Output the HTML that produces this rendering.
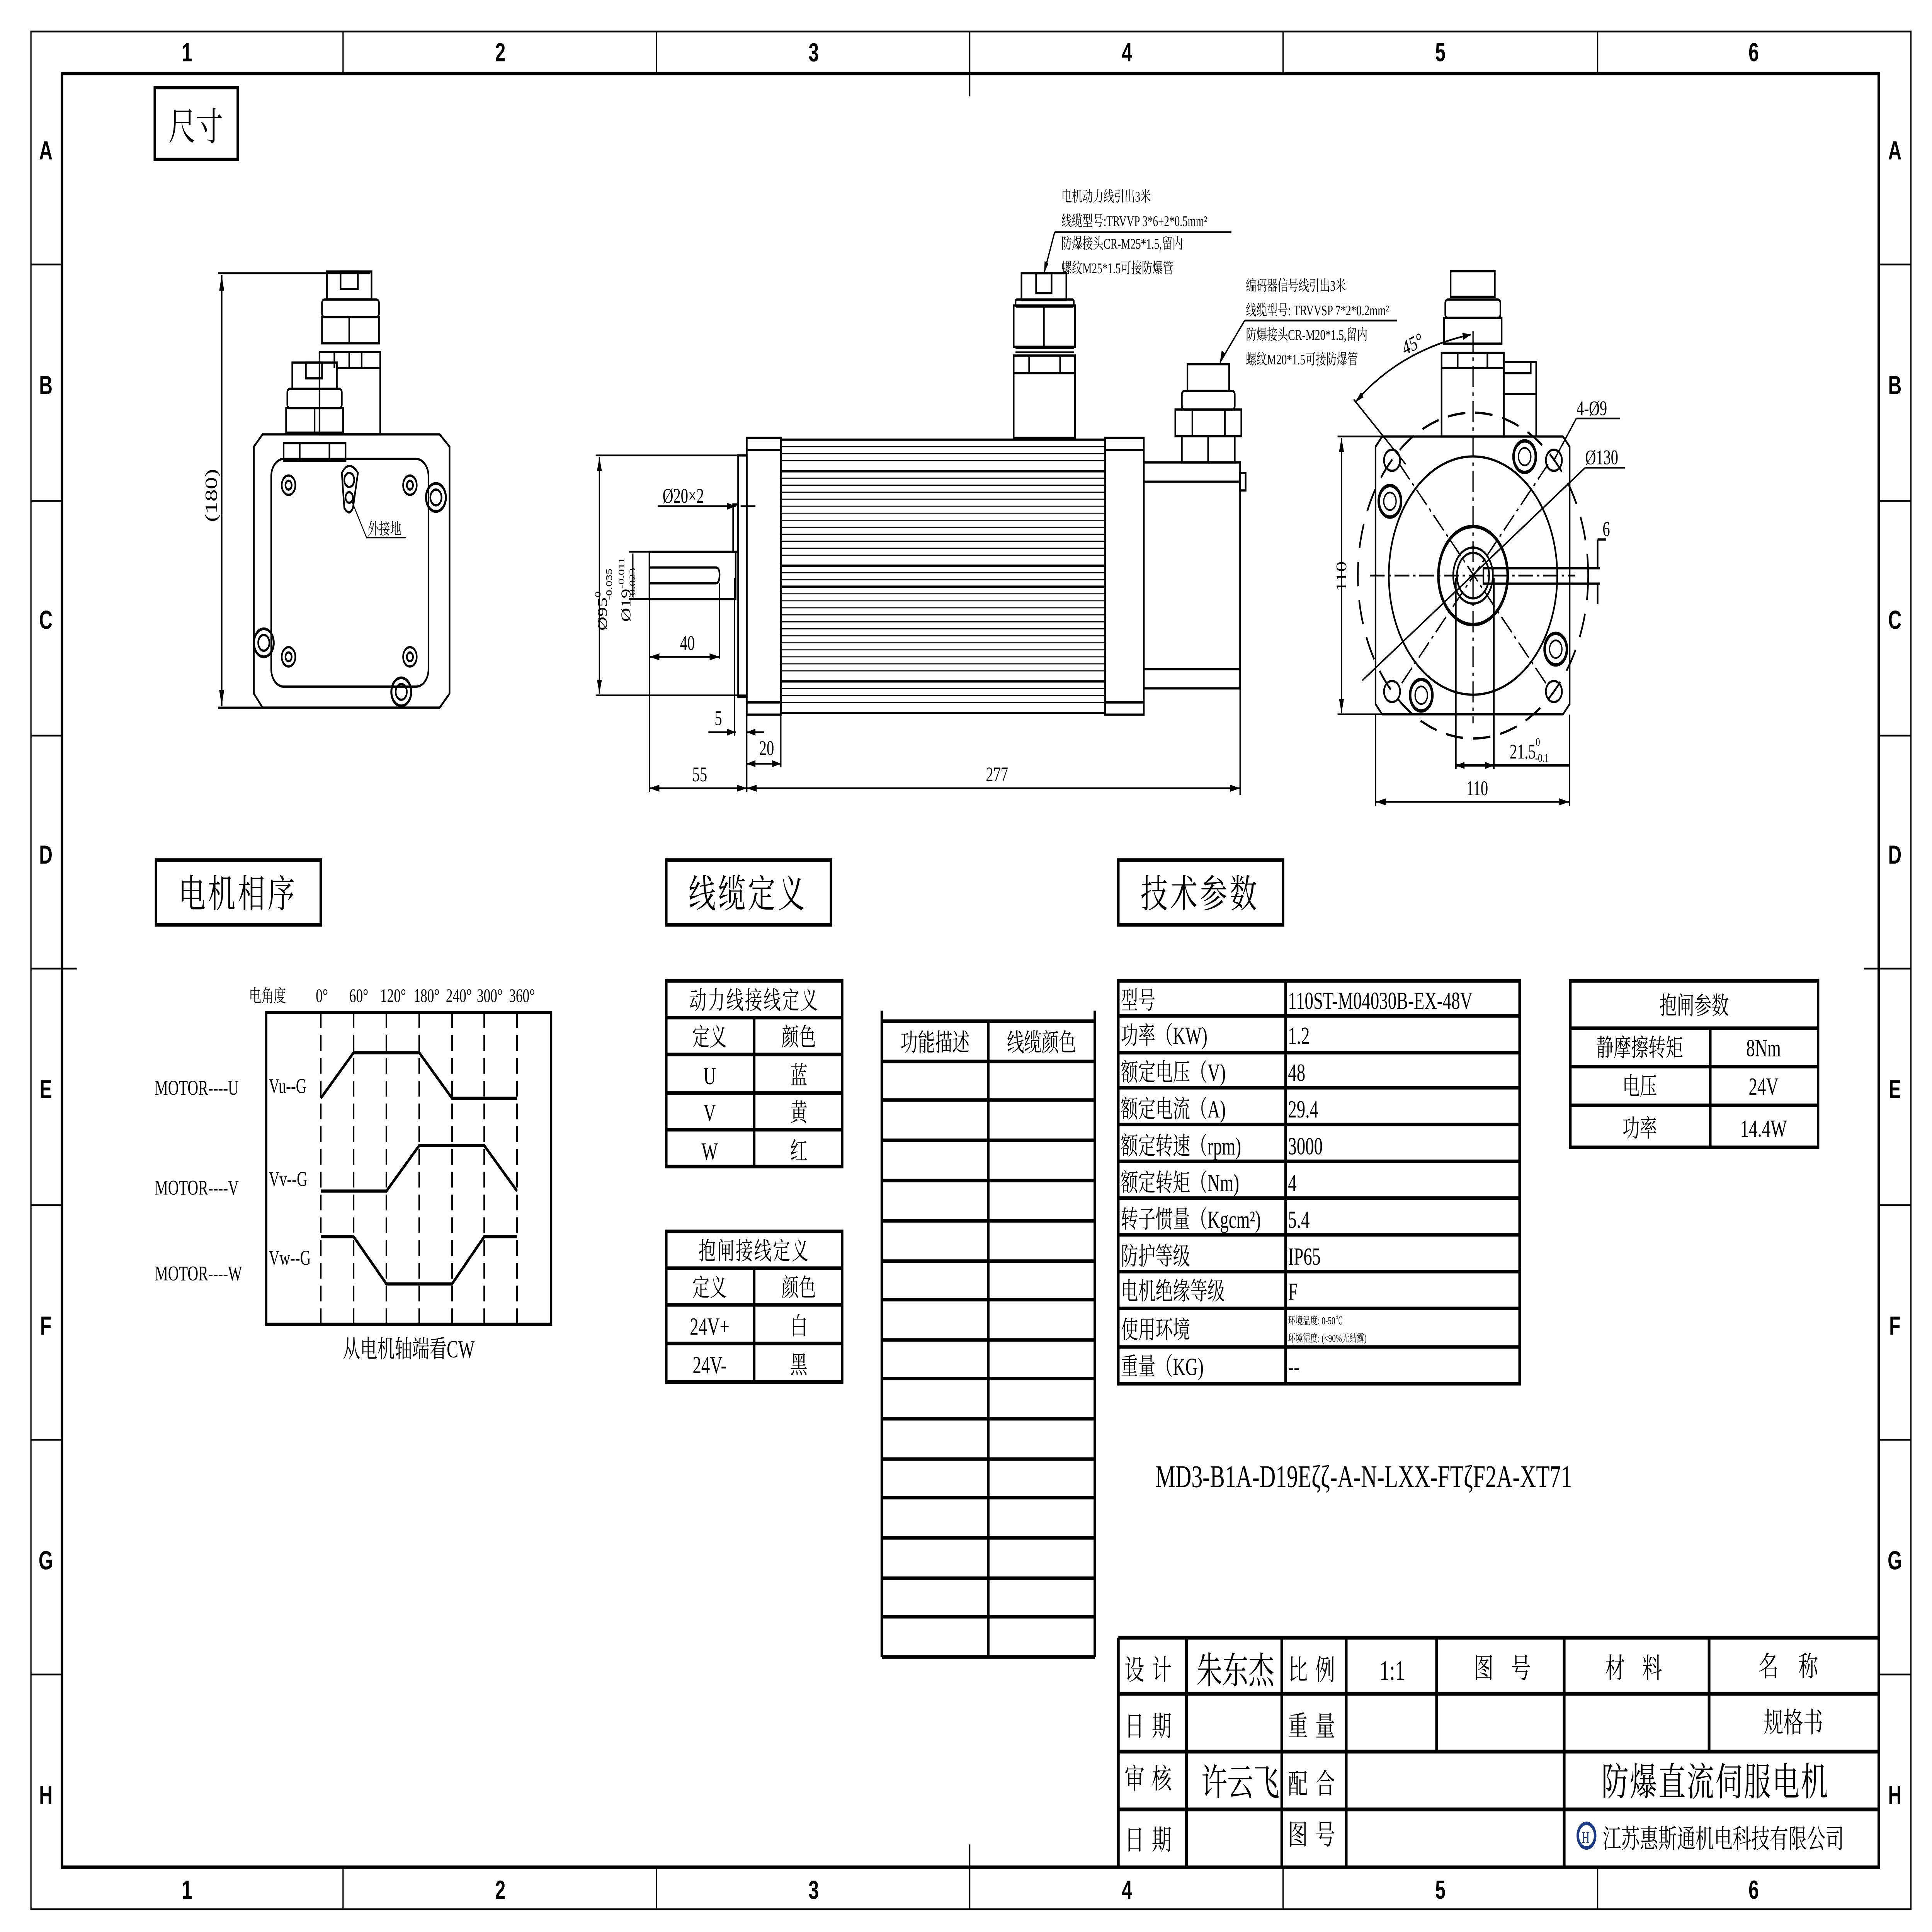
<!DOCTYPE html>
<html><head><meta charset="utf-8"><style>
html,body{margin:0;padding:0;background:#fff;width:100vw;height:100vh;overflow:hidden;}
svg{display:block;width:100vw;height:100vh;}
text{font-family:"Liberation Serif","Noto Serif CJK SC",serif;fill:#000;}
text.s{font-family:"Liberation Sans",sans-serif;font-weight:bold;}
</style></head><body>
<svg xmlns="http://www.w3.org/2000/svg" viewBox="0 0 1560 1103" preserveAspectRatio="none">
<rect width="1560" height="1103" fill="#fff"/>
<g fill="none" stroke="#000">
<rect x="25" y="18" width="1518" height="1072" stroke-width="1"/>
<rect x="50" y="42" width="1467" height="1024" stroke-width="2"/>
<path stroke-width="1" d="M277 18V42M530 18V42M783 18V55M1036 18V42M1290 18V42M277 1066V1090M530 1066V1090M783 1053V1090M1036 1066V1090M1290 1066V1090
M25 151H50M25 286H50M25 420H50M25 553H62M25 688H50M25 822H50M25 956H50
M1517 151H1543M1517 286H1543M1517 420H1543M1505 553H1543M1517 688H1543M1517 822H1543M1517 956H1543"/>
</g>
<g font-size="15" text-anchor="middle">
<text class="s" x="151" y="35">1</text><text class="s" x="404" y="35">2</text><text class="s" x="657" y="35">3</text><text class="s" x="910" y="35">4</text><text class="s" x="1163" y="35">5</text><text class="s" x="1416" y="35">6</text>
<text class="s" x="151" y="1084">1</text><text class="s" x="404" y="1084">2</text><text class="s" x="657" y="1084">3</text><text class="s" x="910" y="1084">4</text><text class="s" x="1163" y="1084">5</text><text class="s" x="1416" y="1084">6</text>
<text class="s" x="37" y="91">A</text><text class="s" x="37" y="225">B</text><text class="s" x="37" y="359">C</text><text class="s" x="37" y="493">D</text><text class="s" x="37" y="627">E</text><text class="s" x="37" y="762">F</text><text class="s" x="37" y="896">G</text><text class="s" x="37" y="1030">H</text>
<text class="s" x="1530" y="91">A</text><text class="s" x="1530" y="225">B</text><text class="s" x="1530" y="359">C</text><text class="s" x="1530" y="493">D</text><text class="s" x="1530" y="627">E</text><text class="s" x="1530" y="762">F</text><text class="s" x="1530" y="896">G</text><text class="s" x="1530" y="1030">H</text>
</g>

<g fill="none" stroke="#000" stroke-width="2">
<rect x="125" y="50" width="67" height="41"/>
<rect x="126" y="491" width="133" height="37"/>
<rect x="538" y="491" width="133" height="37"/>
<rect x="903" y="491" width="133" height="37"/>
</g>
<g font-size="22">
<text x="136" y="80">尺寸</text>
<text x="144" y="518" letter-spacing="2">电机相序</text>
<text x="556" y="518" letter-spacing="2">线缆定义</text>
<text x="921" y="518" letter-spacing="2">技术参数</text>
</g>

<!-- LEFT VIEW -->
<g fill="none" stroke="#000" stroke-width="1.3">
<path d="M212 248H355L363 255V396L355 404H212L205 396V255Z"/>
<rect x="219" y="262" width="127" height="130" rx="10"/>
<circle cx="233" cy="277" r="5.5"/><circle cx="233" cy="277" r="2.5"/>
<circle cx="331" cy="277" r="5.5"/><circle cx="331" cy="277" r="2.5"/>
<circle cx="233" cy="375" r="5.5"/><circle cx="233" cy="375" r="2.5"/>
<circle cx="331" cy="375" r="5.5"/><circle cx="331" cy="375" r="2.5"/>
<circle cx="352" cy="284" r="8" stroke-width="1.6"/><circle cx="352" cy="284" r="4.5"/>
<circle cx="213" cy="367" r="8" stroke-width="1.6"/><circle cx="213" cy="367" r="4.5"/>
<circle cx="324" cy="395" r="8" stroke-width="1.6"/><circle cx="324" cy="395" r="4.5"/>
<path d="M276 270Q282 262 289 270L285 290Q282 295 278 290Z"/>
<circle cx="282" cy="274" r="4"/><circle cx="282" cy="284" r="3"/>
<path stroke-width="0.7" d="M284 286L296 307H328"/>
<rect x="258" y="201" width="49" height="47"/>
<path d="M270 201V210M282 201V210M292 201V210M272 210H307"/>
<rect x="260" y="181" width="46" height="15"/><path d="M282 181V196"/>
<rect x="260" y="171" width="46" height="10" rx="2"/>
<rect x="264" y="155" width="36" height="16"/>
<rect x="275" y="155" width="14" height="10"/>
<rect x="229" y="253" width="50" height="10"/><path d="M242 253V263M266 253V263"/>
<rect x="231" y="233" width="46" height="14"/><path d="M254 233V247"/>
<rect x="232" y="222" width="44" height="11" rx="2"/>
<rect x="236" y="207" width="36" height="15"/>
<rect x="247" y="207" width="13" height="9"/>
<path stroke-width="1.2" d="M176 156H299M176 404H212M179 157V403"/>
</g>
<path d="M179 157L177 166H181Z M179 403L177 394H181Z" fill="#000"/>
<text x="0" y="0" font-size="14" transform="translate(175 298) rotate(-90)">(180)</text>
<text x="297" y="305" font-size="9">外接地</text>

<!-- SIDE VIEW -->
<g fill="none" stroke="#000" stroke-width="1.3">
<rect x="603" y="250" width="27.5" height="158"/>
<path d="M603 257H630.5M603 401H630.5"/>
<rect x="630.5" y="251" width="262" height="156"/>
<rect x="892.3" y="250" width="31.3" height="158"/>
<path d="M892.3 257H923.6M892.3 401H923.6"/>
<rect x="923.6" y="264" width="77.7" height="129"/>
<path d="M923.6 275H1001.3M923.6 382H1001.3"/>
<rect x="1001.3" y="270" width="4.5" height="10"/>
<rect x="596" y="260" width="7" height="138"/>
<rect x="592" y="288" width="4" height="27"/>
<rect x="524.4" y="315" width="69.6" height="27"/>
<path d="M524.4 324H578Q581 324 581 328Q581 333 578 333H524.4"/>
<rect x="818.5" y="203" width="49.5" height="47"/>
<path d="M818.5 213H868M831 203V213M856 203V213"/>
<rect x="818.5" y="174.4" width="49.5" height="23.6"/><path d="M842.9 174.4V198"/>
<rect x="820" y="171" width="47" height="4" rx="1"/>
<rect x="824.8" y="156" width="36.2" height="15.3"/>
<rect x="836.6" y="156" width="12.5" height="11.3"/>
<path stroke-width="0.8" d="M820 199H867M820 201H867"/>
<rect x="954.3" y="249" width="42.7" height="15"/><path d="M975.5 249V264"/>
<rect x="949" y="233.8" width="53.3" height="15.2"/><path d="M962.8 233.8V249M989 233.8V249"/>
<rect x="954.3" y="223.2" width="42.7" height="10.6" rx="2"/>
<rect x="958.8" y="207.9" width="33.7" height="15.3"/>
</g>
<g stroke="#000" stroke-width="0.6">
<path d="M630.5 255H892.3M630.5 259H892.3M630.5 263H892.3M630.5 273H892.3M630.5 277H892.3M630.5 281H892.3M630.5 285H892.3M630.5 289H892.3M630.5 293H892.3M630.5 297H892.3M630.5 301H892.3M630.5 305H892.3M630.5 309H892.3M630.5 313H892.3M630.5 317H892.3M630.5 327H892.3M630.5 331H892.3M630.5 339H892.3M630.5 343H892.3M630.5 347H892.3M630.5 351H892.3M630.5 355H892.3M630.5 359H892.3M630.5 363H892.3M630.5 367H892.3M630.5 371H892.3M630.5 375H892.3M630.5 379H892.3M630.5 383H892.3M630.5 393H892.3M630.5 397H892.3M630.5 401H892.3"/>
<path stroke-width="1.4" d="M630.5 269H892.3M630.5 323H892.3M630.5 335H892.3M630.5 389H892.3"/>
</g>
<g fill="none" stroke="#000" stroke-width="1">
<path d="M481 260H596M481 397H603M484 261V396M508 315H524M508 342H524M511 316V341"/>
<path d="M524.4 342V452M603 408V452M1001.3 393V454M630.5 408V438M581 333V376M593 330V420"/>
<path d="M524.4 450H603M603 450H1001.3M603 436H630.5M524.4 375H581M572 418H594M603 418H617"/>
<path d="M531 289H594M598 289H610"/>
<path d="M851.6 132.5H994.3M851.6 132.5L843 156"/>
<path d="M1005 183H1128M1005 183L985 207"/>
</g>
<g fill="#000">
<path d="M484 261l-2 8h4z M484 396l-2-8h4z M524.4 450l8-2v4z M603 450l-8-2v4z M603 450l8-2v4z M1001.3 450l-8-2v4z M603 436l7-2v4z M630.5 436l-7-2v4z M524.4 375l8-2v4z M581 375l-8-2v4z M594 418l-7-2v4z M603 418l7-2v4z M594 289l-7-2v4z M843 156l0.5-7 3 1.5z M985 207l1.5-7 3 2z"/>
</g>
<g font-size="12">
<text x="535" y="287">Ø20×2</text>
<text x="549" y="371">40</text>
<text x="577" y="414">5</text>
<text x="613" y="431">20</text>
<text x="559" y="446">55</text>
<text x="796" y="446">277</text>
<text transform="translate(490 360) rotate(-90)" font-size="11">Ø95<tspan font-size="7" dy="-5">0</tspan><tspan font-size="7" dx="-5" dy="9">-0.035</tspan></text>
<text transform="translate(509 355) rotate(-90)" font-size="11">Ø19<tspan font-size="7" dy="-5">-0.011</tspan><tspan font-size="7" dx="-24" dy="9">-0.023</tspan></text>
</g>
<g font-size="8.5">
<text x="857" y="115">电机动力线引出3米</text>
<text x="857" y="129">线缆型号:TRVVP 3*6+2*0.5mm²</text>
<text x="857" y="142">防爆接头CR-M25*1.5,留内</text>
<text x="857" y="156">螺纹M25*1.5可接防爆管</text>
<text x="1006" y="166">编码器信号线引出3米</text>
<text x="1006" y="180">线缆型号: TRVVSP 7*2*0.2mm²</text>
<text x="1006" y="194">防爆接头CR-M20*1.5,留内</text>
<text x="1006" y="208">螺纹M20*1.5可接防爆管</text>
</g>

<!-- FRONT VIEW -->
<g fill="none" stroke="#000" stroke-width="1.3">
<path d="M1116 249.2H1262L1267.4 255V402L1262 407.8H1116L1110.7 402V255Z"/>
<circle cx="1189.4" cy="328.6" r="93" stroke-dasharray="14 8"/>
<circle cx="1189.4" cy="328.6" r="68"/>
<circle cx="1189.4" cy="328.6" r="28" stroke-width="2"/>
<circle cx="1189.4" cy="328.6" r="16"/><circle cx="1189.4" cy="328.6" r="13"/>
<rect x="1197.8" y="324.4" width="7.6" height="8.8"/>
<path d="M1205.4 324.4H1292M1205.4 333.2H1292M1290 308V324M1290 333V345M1290 308H1297"/>
<path d="M1175.5 330V439M1206.2 330V439M1175.5 437H1206.2M1206.2 437H1267"/>
<ellipse cx="1124" cy="262.8" rx="6.5" ry="6"/><ellipse cx="1254.7" cy="262.8" rx="6.5" ry="6"/>
<ellipse cx="1124" cy="394.8" rx="6.5" ry="6"/><ellipse cx="1254.7" cy="394.8" rx="6.5" ry="6"/>
<g stroke-width="2"><circle cx="1231.1" cy="260.7" r="9"/><circle cx="1122.3" cy="286.2" r="9"/><circle cx="1256.2" cy="370.6" r="9"/><circle cx="1147.6" cy="396.9" r="9"/></g>
<g stroke-width="1"><circle cx="1231.1" cy="260.7" r="5"/><circle cx="1122.3" cy="286.2" r="5"/><circle cx="1256.2" cy="370.6" r="5"/><circle cx="1147.6" cy="396.9" r="5"/></g>
<rect x="1164" y="201.5" width="50.3" height="47.7"/>
<path d="M1164 210H1214.3M1177 201.5V210M1201 201.5V210"/>
<rect x="1166" y="181.5" width="46.5" height="14.7"/>
<rect x="1167" y="171" width="44.5" height="10.5" rx="2"/>
<rect x="1171.3" y="154.8" width="35.7" height="14.7"/>
<rect x="1214.3" y="206.7" width="26.1" height="42.5"/>
<path d="M1214.3 213H1236V206.7M1214.3 225H1240.4"/>
<path stroke-width="1" d="M1080 249.2H1116M1080 407.8H1116M1083.2 250V407M1110.7 408V460M1267.4 408V460M1111 457.8H1267"/>
<path stroke-width="1" d="M1094 229.8Q1130 200 1187.7 191"/>
<path stroke-width="1" d="M1093 228L1135 265M1272.8 238.9H1308M1272.8 238.9L1254.7 262.8M1280 267H1312M1280 267L1100 388.5"/>
</g>
<g stroke="#000" stroke-width="1" stroke-dasharray="12 3 2 3" fill="none">
<path d="M1106 328.6H1272M1189.4 189V413"/>
<path d="M1130 265L1250 392M1250 265L1130 392"/>
</g>
<g fill="#000">
<path d="M1083.2 250l-2 8h4z M1083.2 407l-2-8h4z M1111 457.8l8-2v4z M1267 457.8l-8-2v4z M1175.5 437l7-2v4z M1206.2 437l-7-2v4z M1187.7 191l-7-1 1 4z M1094 229.8l5-6 2 3z"/>
</g>
<g font-size="12">
<text transform="translate(1087 338) rotate(-90)">110</text>
<text x="1184" y="454">110</text>
<text x="1219" y="433">21.5<tspan font-size="7" dy="-7">0</tspan><tspan font-size="7" dx="-4" dy="9">-0.1</tspan></text>
<text x="1273" y="237">4-Ø9</text>
<text x="1280" y="265">Ø130</text>
<text x="1294" y="306">6</text>
<text transform="translate(1134 203) rotate(-20)">45°</text>
</g>

<!-- PHASE DIAGRAM -->
<g fill="none" stroke="#000">
<rect x="215" y="578" width="230" height="178" stroke-width="1.8"/>
<g stroke-width="1.3" stroke-dasharray="9 4">
<path d="M259 578V756M285.5 578V756M312 578V756M338.5 578V756M365 578V756M391 578V756M417.5 578V756"/>
</g>
<g stroke-width="1.8">
<path d="M259 627L285.5 601H338.5L365 627H417.5"/>
<path d="M259 680H312L338.5 654H391L417.5 680"/>
<path d="M259 706H285.5L312 733H365L391 706H417.5"/>
</g>
</g>
<g font-size="11">
<text x="201" y="572" font-size="10">电角度</text>
<text x="255" y="572">0°</text><text x="282" y="572">60°</text><text x="307" y="572">120°</text><text x="334" y="572">180°</text><text x="360" y="572">240°</text><text x="385" y="572">300°</text><text x="411" y="572">360°</text>
<text x="125" y="625" font-size="12">MOTOR----U</text>
<text x="125" y="682" font-size="12">MOTOR----V</text>
<text x="125" y="731" font-size="12">MOTOR----W</text>
<text x="217" y="624" font-size="12">Vu--G</text>
<text x="217" y="677" font-size="12">Vv--G</text>
<text x="217" y="722" font-size="12">Vw--G</text>
<text x="330" y="775" font-size="14" text-anchor="middle">从电机轴端看CW</text>
</g>

<!-- POWER TABLE -->
<g fill="none" stroke="#000" stroke-width="2">
<rect x="538" y="560" width="142" height="106"/>
<path d="M538 581H680M538 602H680M538 624H680M538 645H680M609 581V666"/>
<rect x="538" y="703" width="142" height="86"/>
<path d="M538 724H680M538 745H680M538 767H680M609 724V789"/>
</g>
<g font-size="14" text-anchor="middle">
<text x="609" y="576" letter-spacing="1">动力线接线定义</text>
<text x="573" y="597">定义</text><text x="645" y="597">颜色</text>
<text x="573" y="619">U</text><text x="645" y="619">蓝</text>
<text x="573" y="640">V</text><text x="645" y="640">黄</text>
<text x="573" y="662">W</text><text x="645" y="662">红</text>
<text x="609" y="719" letter-spacing="1">抱闸接线定义</text>
<text x="573" y="740">定义</text><text x="645" y="740">颜色</text>
<text x="573" y="762">24V+</text><text x="645" y="762">白</text>
<text x="573" y="784">24V-</text><text x="645" y="784">黑</text>
</g>

<!-- FUNCTION TABLE -->
<g fill="none" stroke="#000" stroke-width="2">
<path d="M712 577V946M884 577V946M798 583V946"/>
<path d="M712 583H884M712 606H884M712 628H884M712 651H884M712 674H884M712 697H884M712 720H884M712 742H884M712 765H884M712 787H884M712 810H884M712 833H884M712 855H884M712 878H884M712 901H884M712 923H884M712 946H884"/>
</g>
<g font-size="14" text-anchor="middle">
<text x="755" y="600">功能描述</text><text x="841" y="600">线缆颜色</text>
</g>

<!-- TECH TABLE -->
<g fill="none" stroke="#000" stroke-width="2">
<rect x="903" y="560" width="324" height="230"/>
<path d="M1038 560V790M903 580H1227M903 601H1227M903 621H1227M903 642H1227M903 663H1227M903 684H1227M903 705H1227M903 726H1227M903 747H1227M903 769H1227"/>
<rect x="1268" y="560" width="200" height="95"/>
<path d="M1268 587H1468M1268 609H1468M1268 631H1468M1381 587V655"/>
</g>
<g font-size="14">
<text x="905" y="576">型号</text><text x="1040" y="576">110ST-M04030B-EX-48V</text>
<text x="905" y="596">功率（KW)</text><text x="1040" y="596">1.2</text>
<text x="905" y="617">额定电压（V)</text><text x="1040" y="617">48</text>
<text x="905" y="638">额定电流（A)</text><text x="1040" y="638">29.4</text>
<text x="905" y="659">额定转速（rpm)</text><text x="1040" y="659">3000</text>
<text x="905" y="680">额定转矩（Nm)</text><text x="1040" y="680">4</text>
<text x="905" y="701">转子惯量（Kgcm²)</text><text x="1040" y="701">5.4</text>
<text x="905" y="722">防护等级</text><text x="1040" y="722">IP65</text>
<text x="905" y="742">电机绝缘等级</text><text x="1040" y="742">F</text>
<text x="905" y="764">使用环境</text>
<text x="1040" y="756" font-size="6">环境温度: 0-50℃</text>
<text x="1040" y="766" font-size="6">环境湿度: (&lt;90%无结露)</text>
<text x="905" y="785">重量（KG)</text><text x="1040" y="785">--</text>
</g>
<g font-size="14" text-anchor="middle">
<text x="1368" y="579">抱闸参数</text>
<text x="1324" y="603">静摩擦转矩</text><text x="1424" y="603">8Nm</text>
<text x="1324" y="625">电压</text><text x="1424" y="625">24V</text>
<text x="1324" y="649">功率</text><text x="1424" y="649">14.4W</text>
</g>
<text x="933" y="849" font-size="18">MD3-B1A-D19Eζζ-A-N-LXX-FTζF2A-XT71</text>

<!-- TITLE BLOCK -->
<g fill="none" stroke="#000" stroke-width="2.2">
<path d="M903 935H1517M903 967H1517M903 1000H1517M903 1033H1517M903 935V1066"/>
<path d="M958 935V1066M1035 935V1066M1087 935V1066M1160 935V1000M1263 935V1066M1380 935V1000"/>
</g>
<g font-size="16">
<text x="908" y="959" letter-spacing="6">设计</text>
<text x="966" y="961" font-size="21">朱东杰</text>
<text x="1040" y="959" letter-spacing="6">比例</text>
<text x="1114" y="959">1:1</text>
<text x="1190" y="958" letter-spacing="14">图号</text>
<text x="1296" y="958" letter-spacing="14">材料</text>
<text x="1420" y="957" letter-spacing="16">名称</text>
<text x="908" y="991" letter-spacing="6">日期</text>
<text x="1040" y="991" letter-spacing="6">重量</text>
<text x="1424" y="989">规格书</text>
<text x="908" y="1021" letter-spacing="6">审核</text>
<text x="970" y="1025" font-size="21">许云飞</text>
<text x="1040" y="1024" letter-spacing="6">配合</text>
<text x="1293" y="1025" font-size="22" letter-spacing="1">防爆直流伺服电机</text>
<text x="908" y="1056" letter-spacing="6">日期</text>
<text x="1040" y="1053" letter-spacing="6">图号</text>
<text x="1294" y="1055" font-size="15">江苏惠斯通机电科技有限公司</text>
</g>
<circle cx="1281" cy="1048" r="7" fill="none" stroke="#1a3a8a" stroke-width="2"/>
<text x="1277" y="1052" font-size="9" style="fill:#1a3a8a">H</text>
</svg>
</body></html>
